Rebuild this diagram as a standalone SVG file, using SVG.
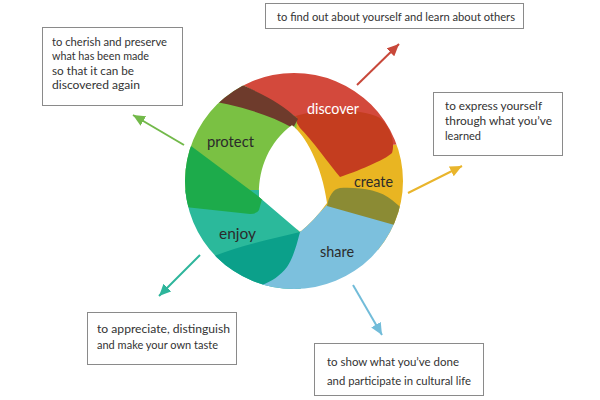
<svg xmlns="http://www.w3.org/2000/svg" width="600" height="400" viewBox="0 0 600 400">
<style>
.box{fill:#fff;stroke:#8a8a8a;stroke-width:1}
.bt{font-family:Lato,"Open Sans",sans-serif;font-size:11px;fill:#333}
.lbl{font-family:Lato,"Open Sans",sans-serif;font-size:15px;fill:#2b2b2b}
.arr{stroke-width:2;fill:none}
</style>
<defs>
<clipPath id="ring">
<path clip-rule="evenodd" d="M185,181 A109,108 0 1,0 403,181 A109,108 0 1,0 185,181 Z M292,125 C305,135 322,165 327,203 Q315,220 300,232 L259,197 C258,170 268,143 292,125 Z"/>
</clipPath>
<marker id="mr" markerUnits="userSpaceOnUse" markerWidth="12" markerHeight="11" refX="12" refY="5.5" orient="auto"><path d="M0,0 L12,5.5 L0,11 Z" fill="#c8483a"/></marker>
<marker id="mg" markerUnits="userSpaceOnUse" markerWidth="12" markerHeight="11" refX="12" refY="5.5" orient="auto"><path d="M0,0 L12,5.5 L0,11 Z" fill="#72b94a"/></marker>
<marker id="my" markerUnits="userSpaceOnUse" markerWidth="12" markerHeight="11" refX="12" refY="5.5" orient="auto"><path d="M0,0 L12,5.5 L0,11 Z" fill="#e9b52c"/></marker>
<marker id="mt" markerUnits="userSpaceOnUse" markerWidth="12" markerHeight="11" refX="12" refY="5.5" orient="auto"><path d="M0,0 L12,5.5 L0,11 Z" fill="#2db59b"/></marker>
<marker id="mb" markerUnits="userSpaceOnUse" markerWidth="12" markerHeight="11" refX="12" refY="5.5" orient="auto"><path d="M0,0 L12,5.5 L0,11 Z" fill="#72bcd9"/></marker>
</defs>
<rect width="600" height="400" fill="#fff"/>
<g id="wheel" clip-path="url(#ring)">
<g id="create">
<path fill="#e9b522" d="M292,118 L330,128 L345,150 L420,142 L420,250 L300,250 L292,200 Z"/>
</g>
<g id="discover">
<path fill="#d3493c" d="M225,60 L420,60 L420,142 L345,150 L330,128 L297,118 Q269,97 232,80 Z"/>
<path fill="#c43d1f" d="M293,117 C320,108 360,108 380,118 C392,128 395,145 392,153 C385,160 355,172 340,177 C330,165 312,140 300,128 Z"/>
</g>
<g id="protect">
<path fill="#7ac143" d="M170,60 L232,80 Q269,97 297,118 L292,200 L170,200 Z"/>
<path fill="#6e3b2c" d="M200,99 C230,104 265,112 293,128 L298,119 C280,102 260,92 225,78 Z"/>
</g>
<g id="enjoy">
<path fill="#2bb99b" d="M170,190 L262,190 L305,235 L300,300 L170,300 Z"/>
<path fill="#1dab4b" d="M175,134 L262,199 L259,210 Q257,214 250,214 L175,206 Z"/>
</g>
<g id="share">
<path fill="#7cc0dd" d="M300,232 L327,205 L400,224 L420,224 L420,300 L250,300 Z"/>
<path fill="#0ba08a" d="M200,262 C225,250 265,240 300,232 C296,248 292,260 287,267 C280,276 272,281 262,285 L255,300 L200,300 Z"/>
<path fill="#8b8b34" d="M327,206 C329,196 333,189 340,188 C360,187 380,190 392,200 L410,215 L410,235 L398,226 Z"/>
</g>
</g>
<g id="labels">
<text class="lbl" x="307" y="114" style="fill:#fff" textLength="52" lengthAdjust="spacingAndGlyphs">discover</text>
<text class="lbl" x="207" y="147" textLength="47" lengthAdjust="spacingAndGlyphs">protect</text>
<text class="lbl" x="354" y="186.5" textLength="39" lengthAdjust="spacingAndGlyphs">create</text>
<text class="lbl" x="219" y="238.5" textLength="37" lengthAdjust="spacingAndGlyphs">enjoy</text>
<text class="lbl" x="320" y="256.5" textLength="34" lengthAdjust="spacingAndGlyphs">share</text>
</g>
<g id="connectors">
<line class="arr" x1="357" y1="85" x2="399" y2="44" stroke="#c8483a" marker-end="url(#mr)"/>
<line class="arr" x1="184" y1="145" x2="133" y2="115" stroke="#72b94a" marker-end="url(#mg)"/>
<line class="arr" x1="408" y1="193" x2="462" y2="166" stroke="#e9b52c" marker-end="url(#my)"/>
<line class="arr" x1="200" y1="255" x2="159" y2="296" stroke="#2db59b" marker-end="url(#mt)"/>
<line class="arr" x1="353" y1="285" x2="382" y2="335" stroke="#72bcd9" marker-end="url(#mb)"/>
</g>
<g id="box-protect">
<rect class="box" x="42.5" y="27.5" width="140" height="78"/>
<text class="bt" x="52" y="45.5" textLength="115" lengthAdjust="spacingAndGlyphs">to cherish and preserve</text>
<text class="bt" x="52" y="60" textLength="97" lengthAdjust="spacingAndGlyphs">what has been made</text>
<text class="bt" x="52" y="74.5" textLength="82" lengthAdjust="spacingAndGlyphs">so that it can be</text>
<text class="bt" x="52" y="89" textLength="88" lengthAdjust="spacingAndGlyphs">discovered again</text>
</g>
<g id="box-discover">
<rect class="box" x="265.5" y="3.5" width="258" height="25"/>
<text class="bt" x="277" y="21" textLength="238" lengthAdjust="spacingAndGlyphs">to find out about yourself and learn about others</text>
</g>
<g id="box-create">
<rect class="box" x="433.5" y="92.5" width="129" height="63"/>
<text class="bt" x="445" y="110" textLength="97" lengthAdjust="spacingAndGlyphs">to express yourself</text>
<text class="bt" x="445" y="125" textLength="107" lengthAdjust="spacingAndGlyphs">through what you’ve</text>
<text class="bt" x="445" y="139.5">learned</text>
</g>
<g id="box-enjoy">
<rect class="box" x="87.5" y="312.5" width="149" height="52"/>
<text class="bt" x="97" y="333" textLength="133" lengthAdjust="spacingAndGlyphs">to appreciate, distinguish</text>
<text class="bt" x="97" y="348.5" textLength="121" lengthAdjust="spacingAndGlyphs">and make your own taste</text>
</g>
<g id="box-share">
<rect class="box" x="314.5" y="343.5" width="169" height="52"/>
<text class="bt" x="327" y="366" textLength="132" lengthAdjust="spacingAndGlyphs">to show what you’ve done</text>
<text class="bt" x="327" y="384.5" textLength="144" lengthAdjust="spacingAndGlyphs">and participate in cultural life</text>
</g>
</svg>
